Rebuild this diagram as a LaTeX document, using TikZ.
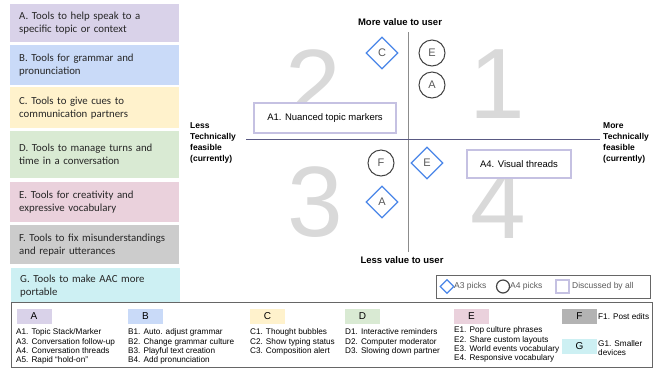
\documentclass[tikz,border=0pt]{standalone}
\usepackage{fontspec}
\setmainfont{Liberation Sans}
\newfontfamily\boxfont{Carlito}
\usetikzlibrary{shapes.geometric}

\definecolor{catA}{HTML}{D9D2E9}
\definecolor{catB}{HTML}{C9DAF8}
\definecolor{catC}{HTML}{FFF2CC}
\definecolor{catD}{HTML}{D9EAD3}
\definecolor{catE}{HTML}{EAD1DC}
\definecolor{catF}{HTML}{CCCCCC}
\definecolor{catG}{HTML}{CDF0F3}
\definecolor{chipF}{HTML}{B3B3B3}
\definecolor{pickblue}{HTML}{4A86E8}
\definecolor{pickgray}{HTML}{434343}
\definecolor{allline}{HTML}{C5C1E2}
\definecolor{bignum}{HTML}{D9D9D9}

\begin{document}
\begin{tikzpicture}[x=1pt,y=-1pt,
	catbox/.style={anchor=north west,minimum width=169pt,minimum height=#1,inner xsep=9pt,inner ysep=0pt,text width=151pt,align=left,text=black!85,font=\boxfont\fontsize{10.8}{13}\selectfont},
	catbox/.default=40pt,
	axislabel/.style={inner sep=0pt,font=\bfseries\fontsize{8.5}{11}\selectfont},
	bigdigit/.style={inner sep=0pt,text=bignum,font=\fontsize{100}{100}\selectfont},
	apick/.style={diamond,draw=pickblue,line width=1.3pt,fill=white,minimum size=32pt,inner sep=0pt,text=black!65,font=\fontsize{11}{11}\selectfont},
	bpick/.style={circle,draw=pickgray,line width=1pt,fill=white,minimum size=26pt,inner sep=0pt,text=black!65,font=\fontsize{11}{11}\selectfont},
	allbox/.style={draw=allline,line width=1.3pt,fill=white,inner sep=0pt,font=\fontsize{9.5}{11}\selectfont},
	legendtext/.style={anchor=west,inner sep=0pt,text=black!65,font=\fontsize{8.5}{10}\selectfont},
	chip/.style={minimum width=35pt,minimum height=15pt,inner sep=0pt,font=\fontsize{10}{10}\selectfont},
	itemlist/.style={anchor=north west,inner sep=0pt,align=left,font=\fontsize{8.2}{9.4}\selectfont}]
	\useasboundingbox (0,0) rectangle (660,368);

	% categories on the left
	\node[catbox=38pt,fill=catA] (catA) at (10,4) {A. Tools to help speak to a\\specific topic or context};
	\node[catbox=40pt,fill=catB] (catB) at (10,45) {B. Tools for grammar and\\pronunciation};
	\node[catbox=41pt,fill=catC] (catC) at (10,87) {C. Tools to give cues to\\communication partners};
	\node[catbox=47pt,fill=catD] (catD) at (10,131) {D. Tools to manage turns and\\time in a conversation};
	\node[catbox=40pt,fill=catE] (catE) at (10,182) {E. Tools for creativity and\\expressive vocabulary};
	\node[catbox=39pt,fill=catF] (catF) at (10,225) {F. Tools to fix misunderstandings\\and repair utterances};
	\node[catbox=35pt,fill=catG] (catG) at (11,268) {G. Tools to make AAC more\\portable};

	% quadrant numbers
	\node[bigdigit] (quadone) at (497,84) {1};
	\node[bigdigit] (quadtwo) at (313,85) {2};
	\node[bigdigit] (quadthree) at (315,202) {3};
	\node[bigdigit] (quadfour) at (498,204) {4};

	% axes
	\coordinate (axtop) at (408,32);
	\coordinate (axbottom) at (408,252);
	\coordinate (axleft) at (246,139);
	\coordinate (axright) at (600,139);
	\draw[black!45,line width=0.9pt] (axtop) -- (axbottom);
	\draw[black!45!blue!30!gray,line width=0.9pt] (axleft) -- (axright);

	\node[axislabel,font=\bfseries\fontsize{9.5}{11}\selectfont] (morevalue) at (400,22) {More value to user};
	\node[axislabel,font=\bfseries\fontsize{9.5}{11}\selectfont] (lessvalue) at (402,260) {Less value to user};
	\node[axislabel,anchor=north west,align=left] (lesstech) at (190,122) {Less\\Technically\\feasible\\(currently)};
	\node[axislabel,anchor=north west,align=left] (moretech) at (603,122) {More\\Technically\\feasible\\(currently)};

	% picks
	\node[apick] (pickC) at (382,53) {C};
	\node[bpick] (pickEb) at (432,53) {E};
	\node[bpick] (pickAb) at (432,85) {A};
	\node[bpick] (pickF) at (381,163) {F};
	\node[apick] (pickEa) at (427,163) {E};
	\node[apick] (pickAa) at (382,202) {A};

	\node[allbox,minimum width=142pt,minimum height=30pt] (nuanced) at (325,118) {A1. Nuanced topic markers};
	\node[allbox,minimum width=104pt,minimum height=28pt] (visual) at (519,164) {A4. Visual threads};

	% legend
	\node[draw=black!60,line width=0.9pt,minimum width=214pt,minimum height=23pt,inner sep=0pt] (legend) at (543,286.5) {};
	\node[diamond,draw=pickblue,line width=1.3pt,minimum size=14pt,inner sep=0pt] (legA) at (447,286.5) {};
	\node[legendtext] (legAtext) at (454,286.5) {A3 picks};
	\node[circle,draw=pickgray,line width=1.2pt,minimum size=13pt,inner sep=0pt] (legB) at (503,286.5) {};
	\node[legendtext] (legBtext) at (510,286.5) {A4 picks};
	\node[draw=allline,line width=1.3pt,minimum size=13pt,inner sep=0pt] (legall) at (562.5,286.5) {};
	\node[legendtext] (legalltext) at (572,286.5) {Discussed by all};

	% key at the bottom
	\node[draw=black!60,line width=0.9pt,fill=white,anchor=north west,minimum width=641pt,minimum height=65pt,inner sep=0pt] (key) at (11,302) {};
	\node[chip,fill=catA] (chipA) at (34,316.5) {A};
	\node[chip,fill=catB] (chipB) at (145.5,316.5) {B};
	\node[chip,fill=catC] (chipC) at (267.5,316.5) {C};
	\node[chip,fill=catD] (chipD) at (362.5,316.5) {D};
	\node[chip,fill=catE] (chipE) at (471.5,316.5) {E};
	\node[chip,fill=chipF] (chipF) at (579.5,316.5) {F};
	\node[chip,fill=catG] (chipG) at (579.5,346) {G};

	\node[itemlist] (listA) at (16,328.5) {A1. Topic Stack/Marker\\A3. Conversation follow-up\\A4. Conversation threads\\A5. Rapid “hold-on”};
	\node[itemlist] (listB) at (128,328.5) {B1. Auto. adjust grammar\\B2. Change grammar culture\\B3. Playful text creation\\B4. Add pronunciation};
	\node[itemlist] (listC) at (250,328.5) {C1. Thought bubbles\\C2. Show typing status\\C3. Composition alert};
	\node[itemlist] (listD) at (345,328.5) {D1. Interactive reminders\\D2. Computer moderator\\D3. Slowing down partner};
	\node[itemlist] (listE) at (454,326.5) {E1. Pop culture phrases\\E2. Share custom layouts\\E3. World events vocabulary\\E4. Responsive vocabulary};
	\node[itemlist,anchor=west] (listF) at (598,317) {F1. Post edits};
	\node[itemlist] (listG) at (598,340) {G1. Smaller\\devices};
\end{tikzpicture}
\end{document}
